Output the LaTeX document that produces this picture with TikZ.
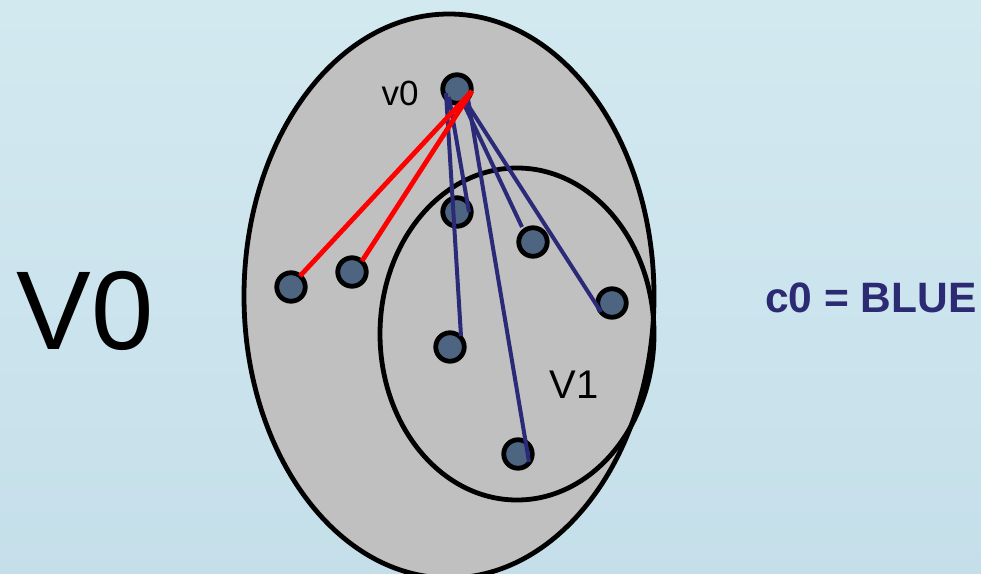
\documentclass[tikz,border=0pt]{standalone}
\usepackage{fontspec}
\setmainfont{Liberation Sans}
\usetikzlibrary{calc}
\definecolor{bgtop}{HTML}{D3E9F0}
\definecolor{bgbot}{HTML}{C5DFEA}
\definecolor{setgray}{HTML}{C0C0C0}
\definecolor{vfill}{HTML}{4E6582}
\definecolor{navy}{HTML}{2B2A78}
\definecolor{labelnavy}{HTML}{2B2A73}
\begin{document}
\begin{tikzpicture}[x=1pt,y=-1pt,
  vert/.style={circle,draw=black,line width=4.8pt,fill=vfill,minimum size=28.5pt,inner sep=0pt},
  setline/.style={draw=black,line width=4.8pt},
  rededge/.style={draw=red,line width=4.8pt},
  blueedge/.style={draw=navy,line width=4pt},
  lbl/.style={anchor=base,inner sep=0pt}]
\useasboundingbox (0,0) rectangle (981,573);
\shade[top color=bgtop,bottom color=bgbot] (0,0) rectangle (981,573);
% sets
\begin{scope}
\clip (0,0) rectangle (981,573);
\path[setline,fill=setgray] (449,296) ellipse [x radius=205,y radius=282];
\end{scope}
\path[setline] (517,334) ellipse [x radius=137,y radius=166];
% vertices
\node[vert] (v0) at (457,89) {};
\node[vert] (a) at (291,287) {};
\node[vert] (b) at (352,272) {};
\node[vert] (c) at (457,212) {};
\node[vert] (d) at (533,242) {};
\node[vert] (e) at (612,303) {};
\node[vert] (f) at (450,347) {};
\node[vert] (g) at (518,454) {};
% blue edges
\draw[blueedge] ($(v0)+(-11,4)$) -- ($(f)+(11,-11)$);
\draw[blueedge] ($(v0)+(-8,8)$) -- ($(c)+(12,0)$);
\draw[blueedge] ($(v0)+(11,10)$) -- ($(g)+(11,8)$);
\draw[blueedge] ($(v0)+(6,13)$) -- ($(d)+(-11,-15)$);
\draw[blueedge] ($(v0)+(9,13)$) -- ($(e)+(-11,9)$);
% red edges
\draw[rededge] ($(v0)+(15,2)$) -- ($(a)+(9,-11)$);
\draw[rededge] ($(v0)+(15,2)$) -- ($(b)+(10,-11)$);
% labels
\node[lbl] (lv0) at (400,105) {\fontsize{35}{35}\selectfont v0};
\node[lbl] (lV0) at (85,349) {\fontsize{112}{112}\selectfont V0};
\node[lbl] (lV1) at (574,398) {\fontsize{40}{40}\selectfont V1};
\node[lbl,text=labelnavy] (lc0) at (871,312) {\fontsize{42.5}{42.5}\selectfont\bfseries c0 = BLUE};
\end{tikzpicture}
\end{document}
